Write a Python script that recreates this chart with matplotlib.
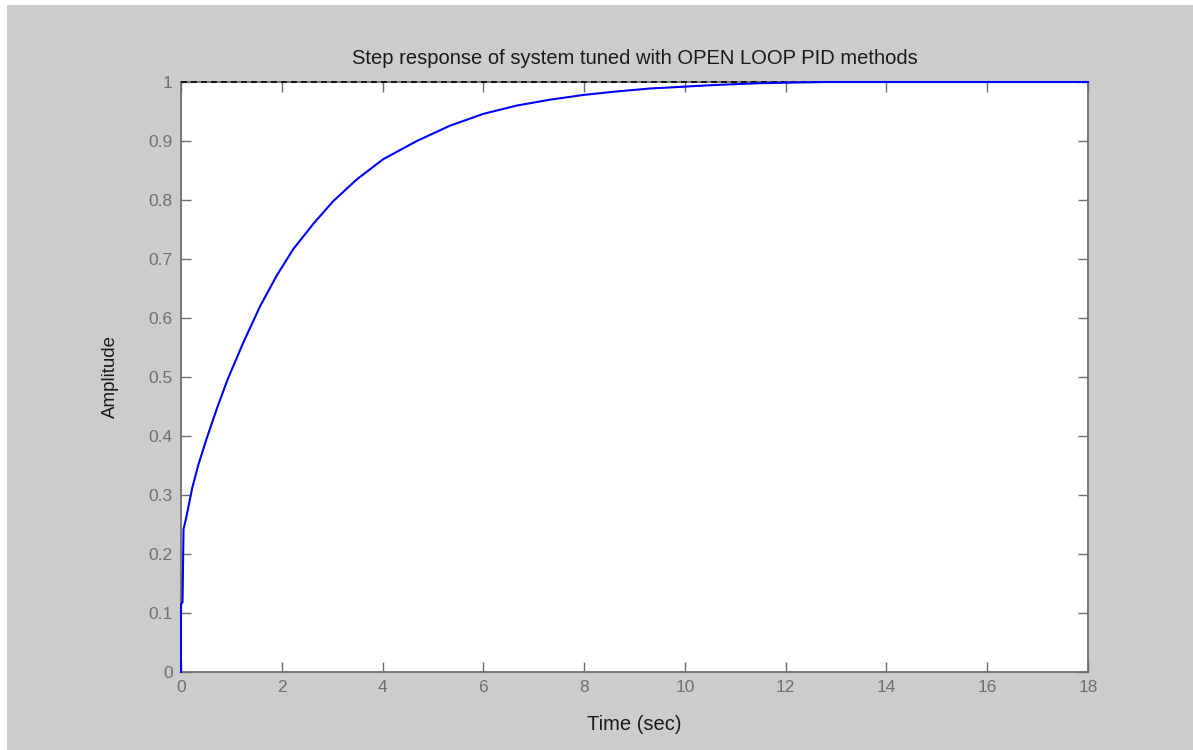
import matplotlib
matplotlib.use("Agg")
import matplotlib.pyplot as plt
from matplotlib.patches import Rectangle

# step response
time_s = [0, 0, 0.03, 0.05, 0.11, 0.22, 0.34, 0.51, 0.71, 0.93, 1.24, 1.57, 1.90,
          2.23, 2.63, 3.02, 3.35, 3.49, 4.01, 4.68, 5.34, 6.0, 6.66, 7.32, 7.98,
          8.65, 9.31, 9.97, 10.6, 11.5, 12.8, 14, 16, 18]
amplitude = [0, 0.115, 0.118, 0.242, 0.264, 0.311, 0.350, 0.396, 0.446, 0.497,
             0.559, 0.620, 0.672, 0.717, 0.760, 0.798, 0.824, 0.835, 0.869, 0.900,
             0.926, 0.946, 0.960, 0.970, 0.978, 0.984, 0.989, 0.992, 0.995, 0.998,
             1.0, 1.0, 1.0, 1.0]
final_value = 1.0

x_ticks = list(range(0, 19, 2))
y_ticks = [0, 0.1, 0.2, 0.3, 0.4, 0.5, 0.6, 0.7, 0.8, 0.9, 1]
y_tick_labels = ["0", "0.1", "0.2", "0.3", "0.4", "0.5", "0.6", "0.7", "0.8", "0.9", "1"]

plt.rcParams["font.family"] = ["Liberation Sans", "DejaVu Sans"]

fig = plt.figure(figsize=(11.93, 7.5), dpi=100, facecolor="white")
# gray window background with a thin white margin at the top and left
fig.patches.append(Rectangle((7 / 1193, 0), 1, 1 - 5 / 750, transform=fig.transFigure,
                             facecolor="#cccccc", edgecolor="none", zorder=-10))

ax = fig.add_axes([181 / 1193, 78 / 750, 907 / 1193, 590 / 750])
ax.set_facecolor("white")

ax.plot([0, 18], [final_value, final_value], color="black", lw=1.2,
        dashes=(3.5, 2.5), zorder=4, clip_on=False)
ax.plot(time_s, amplitude, color="#0000ff", lw=1.5, zorder=5, clip_on=False)

ax.set_xlim(0, 18)
ax.set_ylim(0, 1)
ax.set_xticks(x_ticks)
ax.set_yticks(y_ticks)
ax.set_yticklabels(y_tick_labels)

for s in ax.spines.values():
    s.set_color("#6e6e6e")
    s.set_linewidth(1.3)

ax.tick_params(direction="in", length=7, width=1, color="#6e6e6e",
               labelcolor="#707070", labelsize=12.5,
               top=True, right=True, pad=6)

ax.set_title("Step response of system tuned with OPEN LOOP PID methods",
             fontsize=14.5, color="#1a1a1a", pad=13)
ax.set_xlabel("Time (sec)", fontsize=14.5, color="#1a1a1a", labelpad=14)
ax.set_ylabel("Amplitude", fontsize=13.5, color="#1a1a1a", labelpad=21)

fig.savefig("out.png", dpi=100, facecolor=fig.get_facecolor())
plt.close(fig)
